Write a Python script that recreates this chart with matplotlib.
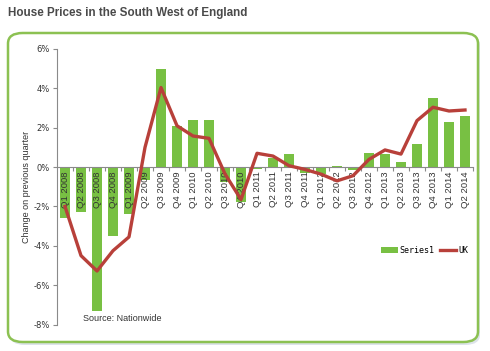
import matplotlib
matplotlib.use("Agg")
import matplotlib.pyplot as plt
from matplotlib.patches import FancyBboxPatch
from matplotlib.ticker import FuncFormatter, FixedLocator

quarters = ["Q1 2008", "Q2 2008", "Q3 2008", "Q4 2008", "Q1 2009", "Q2 2009",
            "Q3 2009", "Q4 2009", "Q1 2010", "Q2 2010", "Q3 2010", "Q4 2010",
            "Q1 2011", "Q2 2011", "Q3 2011", "Q4 2011", "Q1 2012", "Q2 2012",
            "Q3 2012", "Q4 2012", "Q1 2013", "Q2 2013", "Q3 2013", "Q4 2013",
            "Q1 2014", "Q2 2014"]
south_west = [-2.6, -2.3, -7.3, -3.5, -2.4, -0.65, 5.0, 2.1, 2.4, 2.4, -0.75, -1.8,
              -0.08, 0.47, 0.65, -0.3, -0.35, 0.07, -0.17, 0.7, 0.65, 0.27, 1.15, 3.5,
              2.27, 2.58]
uk = [-2.0, -4.5, -5.28, -4.25, -3.55, 1.0, 4.04, 2.1, 1.58, 1.46, -0.35, -1.65,
      0.7, 0.56, 0.07, -0.12, -0.36, -0.7, -0.44, 0.39, 0.87, 0.66, 2.36, 3.04,
      2.85, 2.9]

W, H = 490, 351
fig = plt.figure(figsize=(W / 100, H / 100), dpi=100)
fig.patch.set_facecolor("white")

# title
fig.text(8 / W, 1 - 13 / H, "House Prices in the South West of England",
         fontsize=8.4, fontweight="bold", color="#4a4a4a",
         family="Liberation Sans", va="center", ha="left")

# shadow + rounded green frame
shadow = FancyBboxPatch((10 / W, 1 - 345 / H), 470 / W, 310 / H,
                        boxstyle="round,pad=0,rounding_size=0.03",
                        transform=fig.transFigure, facecolor="#dde3ea",
                        edgecolor="none", zorder=0)
fig.patches.append(shadow)
frame = FancyBboxPatch((8 / W, 1 - 342 / H), 470 / W, 309 / H,
                       boxstyle="round,pad=0,rounding_size=0.03",
                       transform=fig.transFigure, facecolor="white",
                       edgecolor="#8cc152", linewidth=1.8, zorder=1)
fig.patches.append(frame)

ax = fig.add_axes([57 / W, 1 - 324.5 / H, 416 / W, 275.5 / H])
ax.set_zorder(2)
ax.patch.set_alpha(0)
ax.set_axisbelow(False)

x = list(range(len(quarters)))
bars = ax.bar(x, south_west, width=0.68, color="#78c043", label="Series1", zorder=2)
line, = ax.plot(x, uk, color="#b8403a", linewidth=2.4, label="UK", zorder=3)

ax.set_xlim(-0.5, len(quarters) - 0.5)
ax.set_ylim(-8, 6)
ax.set_yticks([-8, -6, -4, -2, 0, 2, 4, 6])
ax.yaxis.set_major_formatter(FuncFormatter(lambda v, p: f"{v:.0f}%"))
ax.tick_params(axis="y", labelsize=6, colors="#8a8a8a", labelcolor="#333333",
               length=3, width=0.8, direction="out", pad=2)

ax.spines["top"].set_visible(False)
ax.spines["right"].set_visible(False)
ax.spines["left"].set_color("#8a8a8a")
ax.spines["bottom"].set_position(("data", 0))
ax.spines["bottom"].set_color("#8a8a8a")

ax.set_xticks(x)
ax.set_xticklabels(quarters, rotation=90, fontsize=6.8, color="#333333",
                   family="Liberation Sans")
ax.tick_params(axis="x", length=0, pad=3)
ax.xaxis.set_minor_locator(FixedLocator([i + 0.5 for i in range(len(quarters))]))
ax.tick_params(axis="x", which="minor", length=3, width=0.8, colors="#8a8a8a",
               direction="out")

ax.set_ylabel("Change on previous quarter", fontsize=6.5, color="#333333",
              family="Liberation Sans", labelpad=2)

ax.text(1.1, -7.7, "Source: Nationwide", fontsize=6.5, color="#333333",
        family="Liberation Sans", va="center", ha="left")

leg = ax.legend(handles=[bars, line], labels=["Series1", "UK"],
                loc="center left", bbox_to_anchor=(0.77, 0.27), ncol=2,
                frameon=False, handlelength=2.0, handletextpad=0.2,
                columnspacing=0.6, borderpad=0,
                prop={"family": "DejaVu Sans Mono", "size": 6})

fig.savefig("out.png", dpi=100, facecolor="white")
